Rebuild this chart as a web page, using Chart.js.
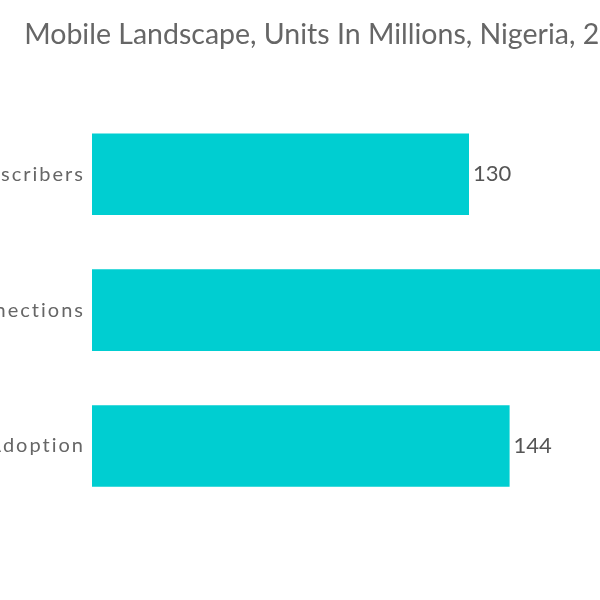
<!DOCTYPE html>
<html>
<head>
<meta charset="utf-8">
<script src="https://cdn.jsdelivr.net/npm/chart.js@4/dist/chart.umd.min.js"></script>
<style>
html,body{margin:0;padding:0;width:600px;height:600px;overflow:hidden;background:#fff;}
#wrap{position:absolute;left:-160px;top:0;width:984px;height:600px;}
</style>
</head>
<body>
<div id="wrap"><canvas id="c" width="984" height="600"></canvas></div>
<script>
const titleText = "Mobile Landscape, Units In Millions, Nigeria, 2022";
const categories = ["Unique Mobile Subscribers", "Mobile Connections", "Smartphone Adoption"];
const units = [130, 205, 144];
const xMax = 240;

const valueLabels = {
  id: 'valueLabels',
  afterDatasetsDraw(chart) {
    const ctx = chart.ctx;
    const meta = chart.getDatasetMeta(0);
    ctx.save();
    ctx.letterSpacing = '0px';
    ctx.font = '22px Lato';
    ctx.fillStyle = '#555';
    ctx.textAlign = 'left';
    ctx.textBaseline = 'middle';
    meta.data.forEach((bar, i) => {
      ctx.fillText(String(units[i]), bar.x + 4, bar.y);
    });
    ctx.restore();
    // spacing for the category labels drawn after this point (ticks z=1)
    ctx.letterSpacing = '2px';
  },
  afterDraw(chart) {
    chart.ctx.letterSpacing = '0px';
  }
};

new Chart(document.getElementById('c'), {
  type: 'bar',
  data: {
    labels: categories,
    datasets: [{
      data: units,
      backgroundColor: '#00CED1',
      borderWidth: 0,
      barPercentage: 0.6,
      categoryPercentage: 1
    }]
  },
  options: {
    indexAxis: 'y',
    responsive: false,
    animation: false,
    layout: { padding: { left: 45, right: 36, top: 0, bottom: 86 } },
    plugins: {
      legend: { display: false },
      tooltip: { enabled: false },
      title: {
        display: true,
        text: titleText,
        align: 'center',
        color: '#666',
        font: { family: 'Lato', size: 28.5, weight: 'normal' },
        padding: { top: 18, bottom: 54 }
      }
    },
    scales: {
      x: { display: false, min: 0, max: xMax },
      y: {
        grid: { display: false, drawTicks: false },
        border: { display: false },
        ticks: { z: 1, color: '#666', font: { family: 'Lato', size: 20 }, padding: 7 },
        afterFit(scale) { scale.width = 207; }
      }
    }
  },
  plugins: [valueLabels]
});
</script>
</body>
</html>
